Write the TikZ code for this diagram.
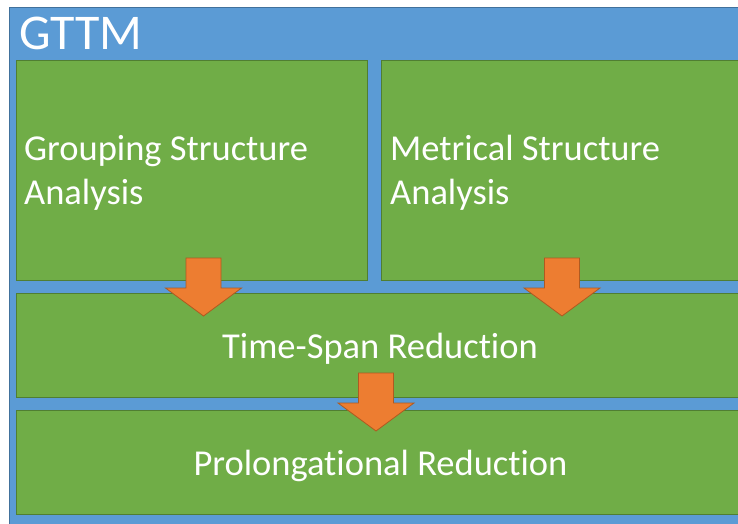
\documentclass[tikz,border=0pt]{standalone}
\usepackage{fontspec}
\setmainfont{Carlito}[Ligatures=NoCommon]
\definecolor{frameblue}{HTML}{5B9BD5}
\definecolor{frameedge}{HTML}{41719C}
\definecolor{boxgreen}{HTML}{70AD47}
\definecolor{boxedge}{HTML}{507E32}
\definecolor{arroworange}{HTML}{ED7D31}
\definecolor{arrowedge}{HTML}{AE5A21}
\tikzset{
  frame/.style={fill=frameblue, draw=frameedge, line width=0.8pt},
  stagebox/.style={fill=boxgreen, draw=boxedge, line width=1pt, inner sep=0pt, anchor=north west},
  label/.style={text=white, inner sep=0pt, font=\fontsize{36.5}{44}\selectfont},
  title/.style={text=white, inner sep=0pt, anchor=base west, font=\fontsize{50}{60}\selectfont},
  flow/.pic={
    \draw[fill=arroworange, draw=arrowedge, line width=0.8pt, line join=miter]
      (-17.5,0) -- (17.5,0) -- (17.5,30) -- (38,30) -- (0,58) -- (-38,30) -- (-17.5,30) -- cycle;
  }
}
\begin{document}
\begin{tikzpicture}[x=1pt, y=-1pt]
  \useasboundingbox (0,0) rectangle (738,523);
  \clip (0,0) rectangle (738,523);
  % outer frame
  \draw[frame] (9.5,7.5) rectangle (760,545);
  \node[title] (gttm) at (19,49) {GTTM};
  % analysis stages
  \node[stagebox, minimum width=351pt, minimum height=220pt] (gsa) at (16,60) {};
  \node[stagebox, minimum width=380pt, minimum height=220pt] (msa) at (381,60) {};
  \node[stagebox, minimum width=745pt, minimum height=104pt] (tsr) at (16,293) {};
  \node[stagebox, minimum width=745pt, minimum height=104pt] (pr) at (16,410) {};
  % stage labels
  \node[label, anchor=base west] (gsat1) at (24,160) {Grouping Structure};
  \node[label, anchor=base west] (gsat2) at (24,204) {Analysis};
  \node[label, anchor=base west] (msat1) at (390,160) {Metrical Structure};
  \node[label, anchor=base west] (msat2) at (390,204) {Analysis};
  \node[label, anchor=base] (tsrt) at (380,358) {Time-Span Reduction};
  \node[label, anchor=base] (prt) at (380.5,475) {Prolongational Reduction};
  % flow arrows between stages
  \coordinate (a1) at (203.5,258);
  \coordinate (a2) at (562,258);
  \coordinate (a3) at (376,373);
  \pic at (a1) {flow};
  \pic at (a2) {flow};
  \pic at (a3) {flow};
\end{tikzpicture}
\end{document}
